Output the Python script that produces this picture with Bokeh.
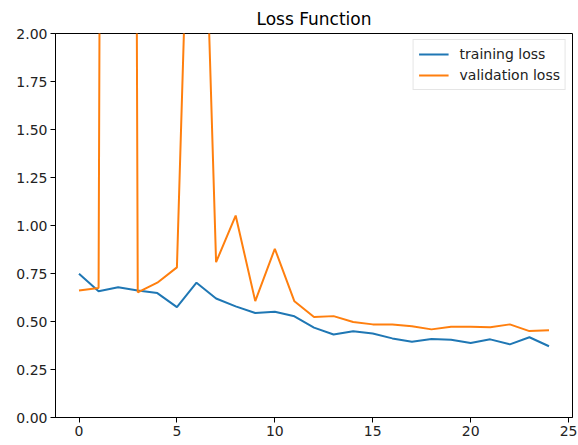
from bokeh.plotting import figure
from bokeh.models import Range1d, FixedTicker, Legend, LegendItem, NumeralTickFormatter
from bokeh.embed import file_html
from bokeh.resources import INLINE

epochs = list(range(25))
training_loss = [0.749, 0.658, 0.678, 0.662, 0.648, 0.575, 0.702, 0.620, 0.579, 0.544,
                 0.551, 0.527, 0.468, 0.432, 0.449, 0.437, 0.412, 0.395, 0.409, 0.405,
                 0.388, 0.407, 0.381, 0.418, 0.371]
validation_loss = [0.662, 0.674, 30.0, 0.652, 0.702, 0.782, 4.2, 0.809, 1.052, 0.606,
                   0.879, 0.605, 0.523, 0.528, 0.497, 0.485, 0.484, 0.475, 0.459, 0.473,
                   0.473, 0.470, 0.485, 0.450, 0.454]
x_ticks = [0, 5, 10, 15, 20, 25]
y_ticks = [0.0, 0.25, 0.5, 0.75, 1.0, 1.25, 1.5, 1.75, 2.0]

FONT = "DejaVu Sans"

p = figure(width=578, height=445, output_backend="svg", toolbar_location=None,
           x_range=Range1d(-1.2, 25.2), y_range=Range1d(0, 2),
           min_border_left=55, min_border_right=6, min_border_top=33, min_border_bottom=28,
           title="Loss Function")
p.title.align = "center"
p.title.text_font = FONT
p.title.text_font_size = "17px"
p.title.text_font_style = "normal"
p.title.text_color = "#000000"
p.title.standoff = 10

p.xgrid.visible = False
p.ygrid.visible = False
p.outline_line_color = "#000000"
p.outline_line_width = 1
p.background_fill_color = "white"
p.border_fill_color = "white"

for ax in (p.xaxis[0], p.yaxis[0]):
    ax.axis_line_color = "#000000"
    ax.major_tick_line_color = "#000000"
    ax.major_tick_out = 5
    ax.major_tick_in = 0
    ax.minor_tick_line_color = None
    ax.major_label_text_font = FONT
    ax.major_label_text_font_size = "14px"
    ax.major_label_text_color = "#222222"
    ax.major_label_standoff = 3

p.xaxis.ticker = FixedTicker(ticks=x_ticks)
p.yaxis.ticker = FixedTicker(ticks=y_ticks)
p.yaxis.formatter = NumeralTickFormatter(format="0.00")

r1 = p.line(epochs, training_loss, line_color="#1f77b4", line_width=2)
r2 = p.line(epochs, validation_loss, line_color="#ff7f0e", line_width=2)

legend = Legend(items=[LegendItem(label="training loss", renderers=[r1]),
                       LegendItem(label="validation loss", renderers=[r2])],
                location="top_right")
legend.label_text_font = FONT
legend.label_text_font_size = "14px"
legend.label_text_color = "#222222"
legend.border_line_color = "#cccccc"
legend.border_line_width = 1
legend.background_fill_alpha = 0.8
legend.glyph_width = 30
legend.glyph_height = 18
legend.label_height = 18
legend.spacing = 3
legend.padding = 5
legend.margin = 6
legend.label_standoff = 11
p.add_layout(legend)

open("out.html", "w").write(file_html(p, INLINE))
